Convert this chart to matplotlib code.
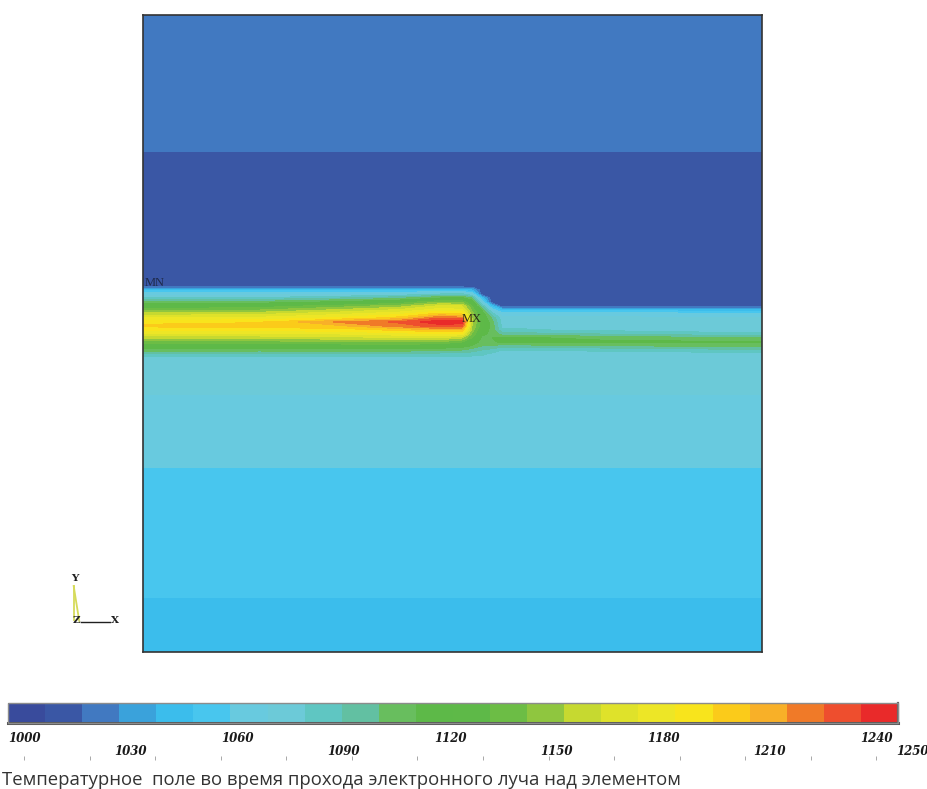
import numpy as np
import matplotlib
matplotlib.use("Agg")
import matplotlib.pyplot as plt
from matplotlib.colors import ListedColormap, BoundaryNorm

W, H = 928, 789

# legend bands, 10 degrees each, 1000..1240
LEVELS = list(range(1000, 1250, 10))
BAND_COLORS = [
    "#394b9c", "#3a57a5", "#4179c1", "#3aa2db", "#3bbdec", "#48c6ee",
    "#68cadf", "#6ccad8", "#5fc6c2", "#62c0a2", "#68be5e", "#5db948",
    "#5eb948", "#6cbd45", "#8fc63f", "#c6d930", "#dfe22a", "#ede626",
    "#f8e41c", "#fbcb1a", "#f8b028", "#f07a28", "#ee4e2e", "#e92a2a",
]
LABEL_VALUES = [1000, 1030, 1060, 1090, 1120, 1150, 1180, 1210, 1240, 1250]

# layers that do not change along x (depth measured from the top of the frame)
TOP_Y = [15, 150, 153]
TOP_T = [1025, 1025, 1012]
BOT_Y = [395, 466, 470, 596, 600, 652]
BOT_T = [1070, 1066, 1052, 1052, 1045, 1045]

# hot zone under the beam: column positions, row positions, one profile per column
HZ_X = [143, 260, 340, 400, 440, 462, 472, 482, 492, 502, 600, 762]
HZ_Y = [286, 290, 294, 298, 302, 306, 310, 314, 318, 322,
        326, 330, 334, 338, 342, 346, 350, 354, 358, 362]
HZ_T = [
    [1012, 1045, 1065, 1080, 1100, 1120, 1135, 1155, 1170, 1186, 1193, 1180, 1168, 1152, 1135, 1120, 1105, 1088, 1076, 1074],
    [1012, 1045, 1066, 1082, 1104, 1124, 1140, 1158, 1173, 1189, 1195, 1182, 1168, 1152, 1135, 1120, 1104, 1088, 1076, 1074],
    [1012, 1045, 1068, 1090, 1112, 1135, 1152, 1168, 1182, 1212, 1198, 1185, 1170, 1155, 1138, 1122, 1105, 1088, 1076, 1074],
    [1012, 1045, 1072, 1098, 1122, 1145, 1162, 1178, 1195, 1222, 1215, 1192, 1175, 1158, 1140, 1122, 1105, 1088, 1076, 1074],
    [1012, 1045, 1080, 1110, 1140, 1162, 1175, 1195, 1220, 1238, 1225, 1200, 1178, 1158, 1138, 1120, 1102, 1086, 1076, 1074],
    [1012, 1045, 1082, 1112, 1138, 1160, 1172, 1190, 1215, 1236, 1222, 1198, 1175, 1150, 1130, 1115, 1100, 1086, 1076, 1074],
    [1012, 1040, 1070, 1100, 1118, 1130, 1138, 1145, 1150, 1152, 1150, 1145, 1138, 1128, 1118, 1108, 1095, 1084, 1076, 1074],
    [1012, 1012, 1012, 1045, 1068, 1090, 1108, 1118, 1122, 1124, 1122, 1118, 1112, 1108, 1105, 1100, 1090, 1082, 1076, 1074],
    [1012, 1012, 1012, 1012, 1012, 1045, 1068, 1085, 1098, 1104, 1106, 1106, 1108, 1110, 1108, 1098, 1086, 1078, 1074, 1073],
    [1012, 1012, 1012, 1012, 1012, 1012, 1045, 1066, 1074, 1076, 1078, 1082, 1095, 1112, 1112, 1095, 1080, 1075, 1073, 1072],
    [1012, 1012, 1012, 1012, 1012, 1012, 1045, 1066, 1072, 1074, 1075, 1078, 1090, 1108, 1112, 1098, 1082, 1075, 1073, 1072],
    [1012, 1012, 1012, 1012, 1012, 1012, 1045, 1064, 1070, 1072, 1073, 1075, 1082, 1100, 1110, 1104, 1088, 1076, 1073, 1072],
]

CAPTION = "Температурное  поле во время прохода электронного луча над элементом"


def build_field():
    x = np.array(HZ_X, dtype=float)
    y = np.array(TOP_Y + HZ_Y + BOT_Y, dtype=float)
    hz = np.array(HZ_T, dtype=float).T
    top = np.repeat(np.array(TOP_T, dtype=float)[:, None], len(x), axis=1)
    bot = np.repeat(np.array(BOT_T, dtype=float)[:, None], len(x), axis=1)
    return x, y, np.vstack([top, hz, bot])


def fig_rect(x0, y0, x1, y1):
    # pixel box (top-left origin) -> figure fraction rect
    return [x0 / W, 1 - y1 / H, (x1 - x0) / W, (y1 - y0) / H]


fig = plt.figure(figsize=(W / 100, H / 100), dpi=100)
fig.patch.set_facecolor("white")

cmap = ListedColormap(BAND_COLORS)
norm = BoundaryNorm(LEVELS, cmap.N)

x, y, T = build_field()
ax = fig.add_axes(fig_rect(143, 15, 762, 652))
cs = ax.contourf(x, y, T, levels=LEVELS, cmap=cmap, norm=norm)
ax.set_xlim(x[0], x[-1])
ax.set_ylim(652, 15)
ax.set_xticks([])
ax.set_yticks([])
for sp in ax.spines.values():
    sp.set_color("#333333")
    sp.set_linewidth(1.2)

ax.text(145, 283, "MN", fontsize=9, family="Liberation Serif", color="#1e2a4a",
        va="center", ha="left")
ax.text(462, 319, "MX", fontsize=9, family="Liberation Serif", color="#2a2a1a",
        va="center", ha="left")

# coordinate triad
tri = fig.add_axes(fig_rect(70, 584, 116, 624))
tri.set_xlim(0, 1)
tri.set_ylim(0, 1)
tri.axis("off")
tri.plot([0.08, 0.08], [0.95, 0.1], color="#d6db5a", lw=1.3)
tri.plot([0.08, 0.2], [0.95, 0.08], color="#d6db5a", lw=1.3)
tri.plot([0.24, 0.86], [0.05, 0.05], color="#202020", lw=1.0)
tri_font = dict(fontsize=7.5, family="DejaVu Serif", fontweight="bold", color="#202020")
tri.text(0.1, 1.02, "Y", ha="center", va="bottom", **tri_font)
tri.text(0.13, 0.08, "Z", ha="center", va="center", **tri_font)
tri.text(0.97, 0.08, "X", ha="center", va="center", **tri_font)

# legend bar
cax = fig.add_axes(fig_rect(8, 703, 898, 723))
cb = fig.colorbar(cs, cax=cax, orientation="horizontal", ticks=[])
cb.ax.minorticks_off()
cb.ax.tick_params(length=0)
cb.outline.set_edgecolor("#8c8c8c")
cb.outline.set_linewidth(1.0)
cax.axhline(0, color="#555555", lw=2.2, clip_on=False)
cax.axvline(cax.get_xlim()[1], color="#666666", lw=1.6, clip_on=False)

# legend labels use their own (slightly compressed) scale
lax = fig.add_axes(fig_rect(24, 728, 912, 760))
lax.set_xlim(1000, 1250)
lax.set_ylim(0, 1)
lax.patch.set_alpha(0)
for sp in lax.spines.values():
    sp.set_visible(False)
lax.set_yticks([])
lax.set_xticks(np.linspace(1000, 1240, 14))
lax.tick_params(axis="x", direction="in", length=3, width=0.6, color="#9a9a9a",
                labelbottom=False)
for i, v in enumerate(LABEL_VALUES):
    yy = 0.66 if i % 2 == 0 else 0.27
    lax.text(v, yy, str(v), ha="center", va="center", fontsize=8.5,
             family="DejaVu Serif", fontweight="bold", fontstyle="italic",
             color="#1a1a1a")

fig.text(2 / W, 1 - 780 / H, CAPTION, fontsize=13.3, family="Open Sans",
         color="#333333", va="center", ha="left")

fig.savefig("out.png", dpi=100, facecolor="white")
